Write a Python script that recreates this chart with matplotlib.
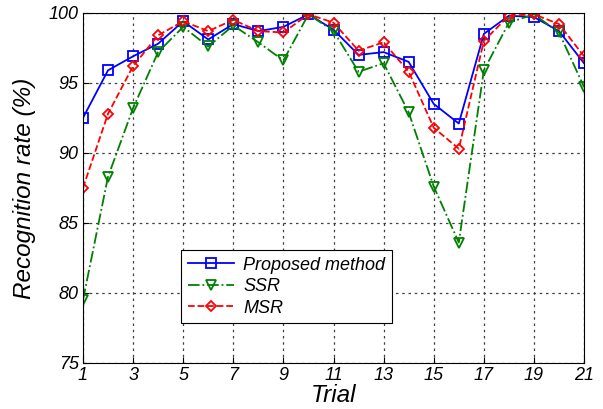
import matplotlib.pyplot as plt
import numpy as np

trials = np.arange(1, 22)
proposed = [92.5, 95.9, 96.9, 97.8, 99.4, 98.1, 99.2, 98.7, 99.0, 99.9, 98.8,
            97.0, 97.2, 96.5, 93.5, 92.1, 98.5, 99.8, 99.7, 98.7, 96.4]
ssr = [79.5, 88.3, 93.2, 97.2, 99.0, 97.6, 99.1, 97.9, 96.6, 99.9, 98.7,
       95.8, 96.4, 92.9, 87.6, 83.6, 95.9, 99.3, 99.9, 98.6, 94.7]
msr = [87.5, 92.8, 96.2, 98.4, 99.4, 98.7, 99.5, 98.7, 98.6, 99.9, 99.3,
       97.3, 97.9, 95.8, 91.8, 90.3, 98.0, 99.8, 99.9, 99.2, 96.9]
xticks = np.arange(1, 22, 2)
yticks = np.arange(75, 101, 5)

plt.rcParams['font.family'] = ['Liberation Sans', 'DejaVu Sans']

fig = plt.figure(figsize=(6.03, 4.09), dpi=100)
ax = fig.add_axes([0.1376, 0.1125, 0.8310, 0.8560])

ax.plot(trials, proposed, color='blue', linestyle='-', linewidth=1.3, marker='s',
        markersize=7, markerfacecolor='none', markeredgewidth=1.3, label='Proposed method')
ax.plot(trials, ssr, color=(0, 0.5, 0), linestyle='-.', linewidth=1.3, marker='v',
        markersize=7, markerfacecolor='none', markeredgewidth=1.3, label='SSR')
ax.plot(trials, msr, color='red', linestyle='--', linewidth=1.3, marker='D',
        markersize=5, markerfacecolor='none', markeredgewidth=1.3, label='MSR')

ax.set_xlim(1, 21)
ax.set_ylim(75, 100)
ax.set_xticks(xticks)
ax.set_yticks(yticks)
ax.tick_params(direction='in', length=4, labelsize=13, pad=3)
for lbl in ax.get_xticklabels() + ax.get_yticklabels():
    lbl.set_fontstyle('italic')
ax.grid(True, linestyle=(0, (2, 3)), color='0.25', linewidth=0.9)

ax.set_xlabel('Trial', fontsize=17.5, fontstyle='italic', labelpad=0)
ax.set_ylabel('Recognition rate (%)', fontsize=17.5, fontstyle='italic', labelpad=9)

leg = ax.legend(loc='lower left', bbox_to_anchor=(0.196, 0.114), borderaxespad=0,
                prop={'style': 'italic', 'size': 13}, fancybox=False, framealpha=1,
                edgecolor='black', borderpad=0.35, labelspacing=0.25, handlelength=2.6,
                handletextpad=0.5)
leg.get_frame().set_linewidth(0.8)

fig.savefig('out.png', dpi=100)
